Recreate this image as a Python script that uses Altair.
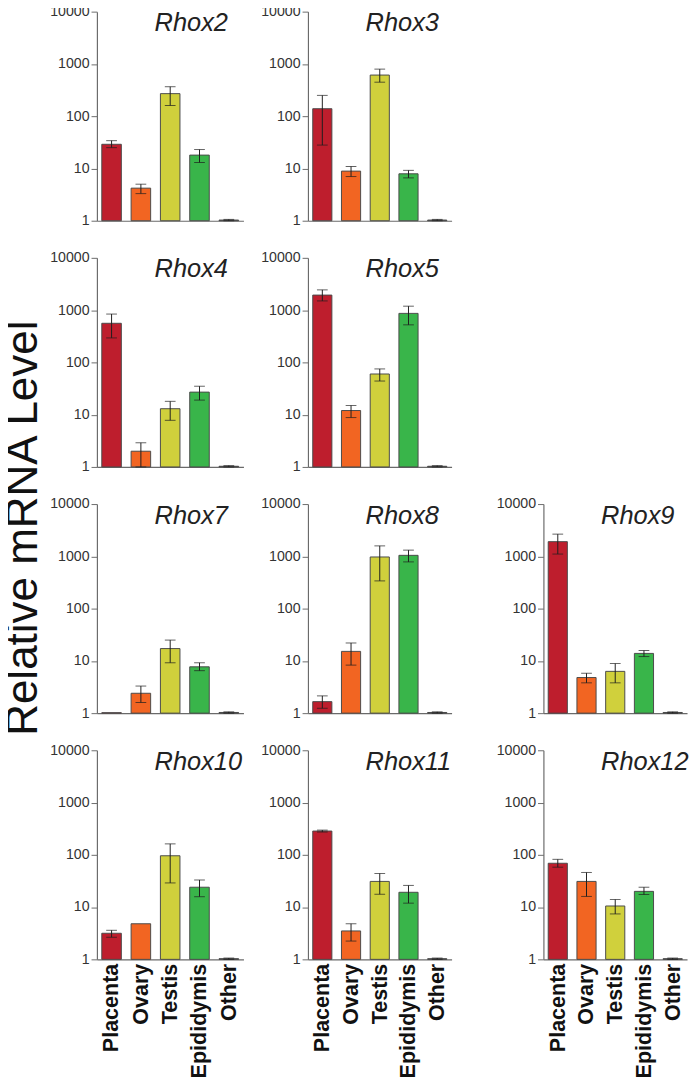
import altair as alt
import pandas as pd

tissues = ["Placenta", "Ovary", "Testis", "Epididymis", "Other"]
colors = ["#BE1E2D", "#F26522", "#D0D03C", "#39B54A", "#3a3a3a"]

rhox2_mean = [29, 4.2, 270, 18, 1.03]
rhox2_lo = [25, 3.3, 160, 13, 1.0]
rhox2_hi = [34, 5.0, 366, 23, 1.06]

rhox3_mean = [139, 8.9, 612, 7.9, 1.03]
rhox3_lo = [28, 7.0, 447, 6.6, 1.0]
rhox3_hi = [250, 10.9, 795, 9.2, 1.06]

rhox4_mean = [560, 2.0, 13, 27, 1.03]
rhox4_lo = [294, 1.0, 7.8, 19, 1.0]
rhox4_hi = [841, 2.9, 18, 35, 1.06]

rhox5_mean = [1940, 12, 60, 866, 1.03]
rhox5_lo = [1500, 8.8, 44, 523, 1.0]
rhox5_hi = [2440, 15, 75, 1190, 1.06]

rhox7_mean = [1.02, 2.4, 17.2, 7.7, 1.03]
rhox7_lo = [None, 1.6, 9.2, 6.5, 1.0]
rhox7_hi = [None, 3.3, 25, 9.2, 1.06]

rhox8_mean = [1.66, 15.2, 972, 1045, 1.03]
rhox8_lo = [1.24, 8.3, 339, 783, 1.0]
rhox8_hi = [2.14, 22, 1585, 1315, 1.06]

rhox9_mean = [1910, 4.8, 6.3, 13.9, 1.03]
rhox9_lo = [1106, 3.8, 3.8, 12.1, 1.0]
rhox9_hi = [2660, 5.8, 8.9, 15.8, 1.06]

rhox10_mean = [3.16, 4.8, 96, 24, 1.03]
rhox10_lo = [2.65, None, 29, 15.8, 1.0]
rhox10_hi = [3.6, None, 162, 33, 1.06]

rhox11_mean = [285, 3.5, 31, 19.2, 1.03]
rhox11_lo = [273, 2.24, 17.6, 11.9, 1.0]
rhox11_hi = [297, 4.8, 44, 26, 1.06]

rhox12_mean = [69, 31, 10.5, 20, 1.03]
rhox12_lo = [58, 16, 7.4, 17.4, 1.0]
rhox12_hi = [82, 46, 14, 24, 1.06]

y_ticks = [1, 10, 100, 1000, 10000]
FONT = "Liberation Sans"
AXIS_GRAY = "#6a6a6a"


def panel(gene, mean, lo, hi, width, height, show_labels, y_extent):
    df = pd.DataFrame({"tissue": tissues, "value": mean, "lo": lo, "hi": hi, "base": [1] * 5})
    base = alt.Chart(df)
    x = alt.X(
        "tissue:N",
        sort=tissues,
        scale=alt.Scale(paddingInner=1 / 3, paddingOuter=1 / 6),
        axis=alt.Axis(
            title=None, ticks=False, labels=show_labels, labelAngle=-90,
            labelFontWeight="bold", labelFontSize=22, labelColor="#111",
            labelFont=FONT, labelPadding=4, domainColor=AXIS_GRAY, domainWidth=1.2,
            minExtent=0,
        ),
    )
    y = alt.Y(
        "value:Q",
        scale=alt.Scale(type="log", domain=[1, 10000]),
        axis=alt.Axis(
            title=None, values=y_ticks, format="d", tickSize=6, tickColor=AXIS_GRAY,
            domainColor=AXIS_GRAY, domainWidth=1.2, labelFontSize=14.5, labelFont=FONT,
            labelColor="#333", labelPadding=2, grid=False, minExtent=y_extent,
            maxExtent=y_extent,
        ),
    )
    bars = base.mark_bar(stroke="#4a4a4a", strokeWidth=1).encode(
        x=x, y=y, y2="base:Q",
        color=alt.Color("tissue:N", scale=alt.Scale(domain=tissues, range=colors), legend=None),
    )
    err = base.transform_filter("isValid(datum.lo)")
    xs = alt.X("tissue:N", sort=tissues)
    rule = err.mark_rule(color="#1e1e1e", strokeWidth=1).encode(x=xs, y="lo:Q", y2="hi:Q")
    cap_lo = err.mark_tick(color="#1e1e1e", thickness=1, size=11).encode(x=xs, y="lo:Q")
    cap_hi = err.mark_tick(color="#1e1e1e", thickness=1, size=11).encode(x=xs, y="hi:Q")
    label = alt.Chart(alt.Data(values=[{"t": gene}])).mark_text(
        font=FONT, fontSize=26, fontStyle="italic", align="left", baseline="alphabetic", color="#222"
    ).encode(x=alt.value(59), y=alt.value(20), text="t:N")
    return alt.layer(bars, rule, cap_lo, cap_hi, label).properties(width=width, height=height)


H = 214
E = 48
p2 = panel("Rhox2", rhox2_mean, rhox2_lo, rhox2_hi, 150, H, False, E)
p3 = panel("Rhox3", rhox3_mean, rhox3_lo, rhox3_hi, 147, H, False, E)
p4 = panel("Rhox4", rhox4_mean, rhox4_lo, rhox4_hi, 150, H, False, E)
p5 = panel("Rhox5", rhox5_mean, rhox5_lo, rhox5_hi, 147, H, False, E)
p7 = panel("Rhox7", rhox7_mean, rhox7_lo, rhox7_hi, 150, H, False, E)
p8 = panel("Rhox8", rhox8_mean, rhox8_lo, rhox8_hi, 147, H, False, E)
p9 = panel("Rhox9", rhox9_mean, rhox9_lo, rhox9_hi, 147, H, False, E + 29)
p10 = panel("Rhox10", rhox10_mean, rhox10_lo, rhox10_hi, 150, H, True, E)
p11 = panel("Rhox11", rhox11_mean, rhox11_lo, rhox11_hi, 147, H, True, E)
p12 = panel("Rhox12", rhox12_mean, rhox12_lo, rhox12_hi, 147, H, True, E + 29)

r1 = alt.hconcat(p2, p3, spacing=17)
r2 = alt.hconcat(p4, p5, spacing=17)
r3 = alt.hconcat(p7, p8, p9, spacing=17)
r4 = alt.hconcat(p10, p11, p12, spacing=17)

grid = alt.vconcat(r1, r2, r3, r4, spacing=23)

chart = grid.properties(
    title=alt.TitleParams(
        "Relative mRNA Level", orient="left", anchor="middle", fontSize=45,
        font=FONT, fontWeight="normal", color="#111", offset=4, dx=13,
    ),
    padding={"top": -17, "left": -7, "right": 0, "bottom": 0},
).configure_view(stroke=None)

chart.save("out.html", embed_options={"renderer": "svg", "actions": False})
